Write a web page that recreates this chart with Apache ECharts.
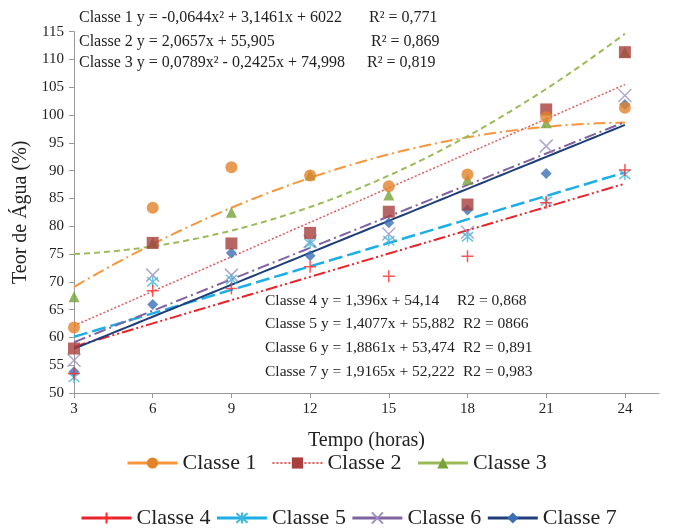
<!DOCTYPE html>
<html>
<head>
<meta charset="utf-8">
<script src="https://cdn.jsdelivr.net/npm/echarts@6/dist/echarts.min.js"></script>
<style>
  html, body { margin: 0; padding: 0; background: #fff; }
  #chart { width: 680px; height: 529px; }
</style>
</head>
<body>
<div id="chart"></div>
<script>
// 时间（小时）
const hours = [3, 6, 9, 12, 15, 18, 21, 24];

// 各类别含水量读数
const classe1 = [61.8, 83.3, 90.6, 89.1, 87.2, 89.3, 99.6, 101.3];
const classe2 = [58.0, 77.0, 76.9, 78.8, 82.6, 83.9, 101.0, 111.3];
const classe3 = [67.3, 77.0, 82.5, 89.2, 85.6, 88.4, 98.6, 111.3];
const classe4 = [53.5, 68.4, 68.8, 72.7, 71.0, 74.6, 84.2, 90.1];
const classe5 = [52.8, 70.0, 70.4, 76.9, 77.4, 78.1, 84.5, 89.3];
const classe6 = [55.9, 71.2, 71.2, 77.3, 78.6, 78.9, 94.4, 103.5];
const classe7 = [53.8, 65.9, 75.2, 74.7, 80.6, 82.9, 89.5, 101.9];

// 趋势线系数 [a, b, c] -> y = a x² + b x + c
const trend1 = [-0.0644, 3.1461, 60.22];
const trend2 = [0, 2.0657, 55.905];
const trend3 = [0.0789, -0.2425, 74.998];
const trend4 = [0, 1.396, 54.14];
const trend5 = [0, 1.4077, 55.882];
const trend6 = [0, 1.8861, 53.474];
const trend7 = [0, 1.9165, 52.222];

const names = ['Classe 1', 'Classe 2', 'Classe 3', 'Classe 4', 'Classe 5', 'Classe 6', 'Classe 7'];
const values = [classe1, classe2, classe3, classe4, classe5, classe6, classe7];
const trends = [trend1, trend2, trend3, trend4, trend5, trend6, trend7];

const serif = '"Liberation Serif", "DejaVu Serif", serif';

// 标记样式
const plusPath = 'path://M0,5 L10,5 M5,0 L5,10';
const crossPath = 'path://M0,0 L10,10 M10,0 L0,10';
const starPath = 'path://M0,0 L10,10 M10,0 L0,10 M5,-1 L5,11';

const styles = [
  { line: '#F7963C', mark: '#E2822B', dash: [12, 4, 2, 4], w: 2, symbol: 'circle', size: 12 },
  { line: '#E05A5A', mark: '#A83F3C', dash: [2, 2], w: 1.5, symbol: 'rect', size: 12 },
  { line: '#9BBB59', mark: '#77A33A', dash: [6, 4], w: 2, symbol: 'triangle', size: 11 },
  { line: '#E8232A', mark: '#FF2A2A', dash: [12, 3, 2, 3, 2, 3], w: 2, symbol: plusPath, size: 12, stroke: true },
  { line: '#1DAEE6', mark: '#3FB7D9', dash: [14, 5], w: 2.5, symbol: starPath, size: 11, stroke: true },
  { line: '#8064A2', mark: '#9C8FC0', dash: [12, 4, 2, 4], w: 2, symbol: crossPath, size: 13, stroke: true },
  { line: '#1F3F7A', mark: '#3A6FB5', dash: 'solid', w: 2, symbol: 'diamond', size: 11 }
];

function trendPoints(coef) {
  const pts = [];
  for (let x = 3; x <= 24.001; x += 0.25) {
    pts.push([x, coef[0] * x * x + coef[1] * x + coef[2]]);
  }
  return pts;
}

function markStyle(s) {
  return s.stroke
    ? { color: 'rgba(0,0,0,0)', borderColor: s.mark, borderWidth: 1.5 }
    : { color: s.mark };
}

const series = [];
names.forEach((name, i) => {
  const s = styles[i];
  // 趋势线
  series.push({
    name: name,
    type: 'line',
    data: trendPoints(trends[i]),
    showSymbol: false,
    symbol: s.symbol,
    symbolSize: s.size,
    silent: true,
    itemStyle: markStyle(s),
    lineStyle: { color: s.line, width: s.w, type: s.dash },
    z: 2
  });
  // 数据点（前面的类别画在上层）
  series.push({
    name: name,
    type: 'scatter',
    data: hours.map((h, k) => [h, values[i][k]]),
    symbol: s.symbol,
    symbolSize: s.size,
    itemStyle: markStyle(s),
    z: 10 - i
  });
});

const eqTop = [
  ['Classe 1 y = -0,0644x² + 3,1461x + 6022', 'R² = 0,771', 18, 369],
  ['Classe 2 y = 2,0657x + 55,905', 'R² = 0,869', 42, 371],
  ['Classe 3 y = 0,0789x² - 0,2425x + 74,998', 'R² = 0,819', 63, 367]
];
const eqBottom = [
  ['Classe 4 y = 1,396x + 54,14', 'R2 = 0,868', 301, 457],
  ['Classe 5 y = 1,4077x + 55,882', 'R2 = 0866', 324, 463],
  ['Classe 6 y = 1,8861x + 53,474', 'R2 = 0,891', 348, 463],
  ['Classe 7 y = 1,9165x + 52,222', 'R2 = 0,983', 372, 463]
];

const graphics = [];
eqTop.forEach(r => {
  graphics.push({ type: 'text', left: 79, top: r[2] - 8, style: { text: r[0], font: '16px ' + serif, fill: '#222' } });
  graphics.push({ type: 'text', left: r[3], top: r[2] - 8, style: { text: r[1], font: '16px ' + serif, fill: '#222' } });
});
eqBottom.forEach(r => {
  graphics.push({ type: 'text', left: 265, top: r[2] - 8, style: { text: r[0], font: '15.5px ' + serif, fill: '#222' } });
  graphics.push({ type: 'text', left: r[3], top: r[2] - 8, style: { text: r[1], font: '15.5px ' + serif, fill: '#222' } });
});

const legendBase = {
  orient: 'horizontal',
  itemWidth: 50,
  itemHeight: 14,
  textStyle: { fontFamily: serif, fontSize: 22, color: '#222' }
};

function legendItems(list) {
  return list.map(n => n === 'Classe 2'
    ? { name: n }
    : { name: n, lineStyle: { type: 'solid', width: 3 } });
}

const chart = echarts.init(document.getElementById('chart'), null, { renderer: 'canvas' });
chart.setOption({
  backgroundColor: '#fff',
  animation: false,
  grid: { left: 74, right: 21, top: 31.6, bottom: 136, containLabel: false, outerBoundsMode: 'none' },
  xAxis: {
    type: 'value',
    min: 3,
    max: 25.3,
    interval: 3,
    name: 'Tempo (horas)',
    nameLocation: 'middle',
    nameGap: 38,
    nameTextStyle: { fontFamily: serif, fontSize: 20, color: '#222' },
    axisLine: { show: true, lineStyle: { color: '#999', width: 1 } },
    axisTick: { show: true, length: 5, lineStyle: { color: '#999' }, customValues: hours },
    axisLabel: { fontFamily: serif, fontSize: 15, color: '#222', margin: 9, customValues: hours },
    splitLine: { show: false }
  },
  yAxis: {
    type: 'value',
    min: 50,
    max: 115,
    interval: 5,
    name: 'Teor de Água (%)',
    nameLocation: 'middle',
    nameRotate: 90,
    nameGap: 38,
    nameTextStyle: { fontFamily: serif, fontSize: 20, color: '#222' },
    axisLine: { show: true, lineStyle: { color: '#999', width: 1 } },
    axisTick: { show: true, length: 5, lineStyle: { color: '#999' } },
    axisLabel: { fontFamily: serif, fontSize: 15, color: '#222', margin: 10 },
    splitLine: { show: false }
  },
  legend: [
    Object.assign({}, legendBase, { left: 121, top: 447, itemGap: 15, data: legendItems(names.slice(0, 3)) }),
    Object.assign({}, legendBase, { left: 75, top: 502, itemGap: 5, data: legendItems(names.slice(3)) })
  ],
  graphic: graphics,
  series: series
});
</script>
</body>
</html>
